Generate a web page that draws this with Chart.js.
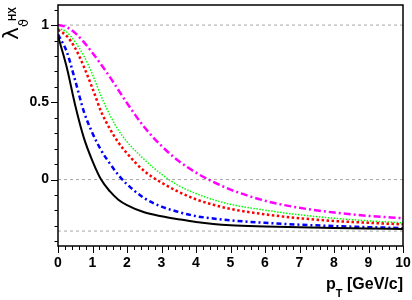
<!DOCTYPE html>
<html lang="en">
<head>
    <meta charset="UTF-8">
    <title>lambda theta HX vs pT</title>
    <style>
        body { margin: 0; background: #fff; }
    </style>
</head>
<body>
    <script src="https://cdn.jsdelivr.net/npm/chart.js@4/dist/chart.umd.min.js"></script>
    <canvas id="myChart" width="412" height="300"></canvas>

    <script>
        var pT = [0, 0.25, 0.5, 0.75, 1, 1.25, 1.5, 1.75, 2, 2.5, 3, 3.5, 4, 4.5, 5, 6, 7, 8, 9, 10];

        var blackCurve = [0.93, 0.73, 0.48, 0.27, 0.12, 0.0, -0.075, -0.13, -0.165, -0.212, -0.237, -0.257, -0.275, -0.288, -0.296, -0.303, -0.308, -0.313, -0.317, -0.32];
        var blueCurve = [0.94, 0.83, 0.64, 0.44, 0.30, 0.19, 0.105, 0.03, -0.03, -0.12, -0.175, -0.21, -0.237, -0.252, -0.264, -0.28, -0.292, -0.301, -0.308, -0.314];
        var redCurve = [0.97, 0.93, 0.85, 0.73, 0.59, 0.44, 0.33, 0.24, 0.17, 0.055, -0.02, -0.08, -0.128, -0.163, -0.19, -0.225, -0.25, -0.268, -0.28, -0.29];
        var greenCurve = [0.98, 0.955, 0.89, 0.80, 0.68, 0.54, 0.42, 0.32, 0.245, 0.13, 0.035, -0.04, -0.09, -0.13, -0.16, -0.198, -0.228, -0.25, -0.267, -0.28];
        var magentaCurve = [1.0, 0.987, 0.948, 0.89, 0.82, 0.745, 0.665, 0.58, 0.495, 0.34, 0.218, 0.12, 0.045, -0.015, -0.065, -0.137, -0.183, -0.213, -0.235, -0.25];

        // dashed reference levels
        var refLevels = [1, 0, -1 / 3];

        var xTickLabels = [0, 1, 2, 3, 4, 5, 6, 7, 8, 9, 10];
        var yTickLabels = [0, 0.5, 1];

        function points(ys) {
            return ys.map(function (y, i) { return { x: pT[i], y: y }; });
        }

        function curve(ys, color, width, dash) {
            return {
                data: points(ys),
                borderColor: color,
                borderWidth: width,
                borderDash: dash,
                borderCapStyle: 'butt',
                pointRadius: 0,
                cubicInterpolationMode: 'monotone',
                fill: false
            };
        }

        var datasets = [
            curve(blackCurve, '#000000', 2, []),
            curve(blueCurve, '#0000ff', 2.5, [5, 3, 2, 3]),
            curve(redCurve, '#ff0000', 2.5, [2.5, 2.5]),
            curve(greenCurve, '#00ff00', 1.5, [1.5, 1.5]),
            curve(magentaCurve, '#ff00ff', 2.5, [7, 3, 2, 3])
        ];
        refLevels.forEach(function (v) {
            datasets.push({
                data: [{ x: 0, y: v }, { x: 10, y: v }],
                borderColor: '#a8a8a8',
                borderWidth: 1,
                borderDash: [3, 3],
                pointRadius: 0,
                fill: false
            });
        });

        var tickFont = { family: 'Liberation Sans', size: 14, weight: 'bold' };

        // ROOT style frame, ticks and axis titles
        var rootFrame = {
            id: 'rootFrame',
            afterDraw: function (chart) {
                var ctx = chart.ctx;
                var a = chart.chartArea;
                var xs = chart.scales.x, ys = chart.scales.y;
                ctx.save();
                ctx.strokeStyle = '#000';
                ctx.lineWidth = 1.5;
                ctx.strokeRect(a.left, a.top, a.right - a.left, a.bottom - a.top);

                ctx.lineWidth = 1;
                ctx.beginPath();
                for (var i = 0; i <= 50; i++) {
                    var v = i * 0.2;
                    var px = Math.round(xs.getPixelForValue(v)) + 0.5;
                    var len = (i % 5 === 0) ? 7 : 4;
                    ctx.moveTo(px, a.bottom);
                    ctx.lineTo(px, a.bottom + len);
                }
                for (var j = -4; j <= 11; j++) {
                    var vy = j * 0.1;
                    var py = Math.round(ys.getPixelForValue(vy)) + 0.5;
                    var ylen = (j % 5 === 0) ? 7 : 3.5;
                    ctx.moveTo(a.left, py);
                    ctx.lineTo(a.left - ylen, py);
                }
                ctx.stroke();

                // x title: p_T [GeV/c]
                ctx.fillStyle = '#000';
                ctx.textBaseline = 'alphabetic';
                ctx.textAlign = 'left';
                var big = 'bold 16px "Liberation Sans"';
                var small = 'bold 11px "Liberation Sans"';
                ctx.font = big;
                var wP = ctx.measureText('p').width;
                var wRest = ctx.measureText(' [GeV/c]').width;
                ctx.font = small;
                var wT = ctx.measureText('T').width;
                var x0 = a.right - (wP + wT + wRest);
                ctx.font = big;
                ctx.fillText('p', x0, 289);
                ctx.font = small;
                ctx.fillText('T', x0 + wP, 297);
                ctx.font = big;
                ctx.fillText(' [GeV/c]', x0 + wP + wT, 289);

                // y title: lambda_theta^HX, rotated
                ctx.translate(18, 40);
                ctx.rotate(-Math.PI / 2);
                ctx.font = '22px "DejaVu Sans"';
                ctx.fillText('\u03bb', 0, 0);
                ctx.font = '13px "DejaVu Sans"';
                ctx.fillText('\u03d1', 13, 10);
                ctx.font = 'bold 10px "Liberation Sans"';
                ctx.fillText('HX', 19, -2);
                ctx.restore();
            }
        };

        var config = {
            type: 'line',
            data: { datasets: datasets },
            options: {
                responsive: false,
                animation: false,
                events: [],
                layout: { padding: { top: 5, right: 9, left: 0, bottom: 0 } },
                plugins: {
                    legend: { display: false },
                    tooltip: { enabled: false }
                },
                scales: {
                    x: {
                        type: 'linear',
                        min: 0,
                        max: 10,
                        grid: { display: false, drawTicks: false },
                        border: { display: false },
                        afterBuildTicks: function (scale) {
                            scale.ticks = xTickLabels.map(function (v) { return { value: v }; });
                        },
                        afterFit: function (scale) {
                            scale.height = 54;
                            scale.paddingLeft = 0;
                            scale.paddingRight = 0;
                        },
                        ticks: {
                            font: tickFont,
                            color: '#000',
                            padding: 9,
                            maxRotation: 0,
                            autoSkip: false,
                            callback: function (v) { return String(v); }
                        }
                    },
                    y: {
                        type: 'linear',
                        min: -0.43,
                        max: 1.13,
                        grid: { display: false, drawTicks: false },
                        border: { display: false },
                        afterBuildTicks: function (scale) {
                            scale.ticks = yTickLabels.map(function (v) { return { value: v }; });
                        },
                        afterFit: function (scale) {
                            scale.width = 58;
                            scale.paddingTop = 0;
                            scale.paddingBottom = 0;
                        },
                        ticks: {
                            font: tickFont,
                            color: '#000',
                            padding: 9,
                            autoSkip: false,
                            callback: function (v) { return String(v); }
                        }
                    }
                }
            },
            plugins: [rootFrame]
        };

        var ctx = document.getElementById('myChart').getContext('2d');
        var chart = new Chart(ctx, config);
    </script>
</body>
</html>
